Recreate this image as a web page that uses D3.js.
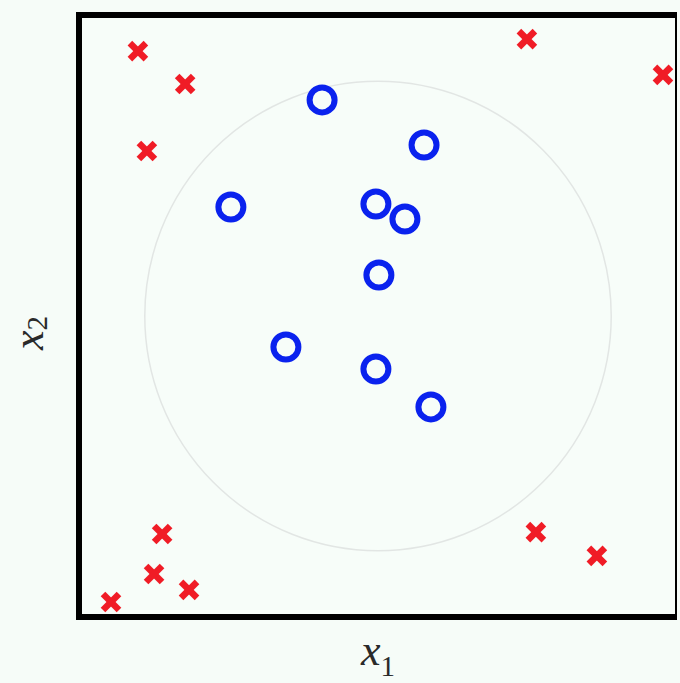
<!DOCTYPE html>
<html>
<head>
<meta charset="utf-8">
<script src="https://cdn.jsdelivr.net/npm/d3@7"></script>
<style>
  html, body { margin: 0; padding: 0; background: #f6fcf8; }
</style>
</head>
<body>
<div id="chart"></div>
<script>
// positive class (blue circles)
const posX = [-0.187, 0.154, -0.492, -0.007, 0.090, 0.003, -0.308, -0.007, 0.177];
const posY = [0.718, 0.568, 0.362, 0.372, 0.322, 0.136, -0.103, -0.176, -0.302];
// negative class (red crosses)
const negX = [-0.803, -0.645, -0.773, 0.498, 0.953, -0.722, -0.749, -0.632, -0.893, 0.528, 0.732];
const negY = [0.880, 0.771, 0.548, 0.920, 0.801, -0.724, -0.857, -0.910, -0.950, -0.718, -0.797];
// decision boundary radius
const boundaryR = 0.78;

const W = 680, H = 683;
const margin = { top: 15, right: 3, bottom: 66, left: 79 };

const svg = d3.select("#chart").append("svg")
    .attr("width", W)
    .attr("height", H);

const x = d3.scaleLinear().domain([-1, 1]).range([margin.left, W - margin.right]);
const y = d3.scaleLinear().domain([-1, 1]).range([H - margin.bottom, margin.top]);

// plot background
svg.append("rect")
    .attr("x", x(-1)).attr("y", y(1))
    .attr("width", x(1) - x(-1)).attr("height", y(-1) - y(1))
    .attr("fill", "#f7fdf9");

// circular boundary
svg.append("ellipse")
    .attr("cx", x(0)).attr("cy", y(0))
    .attr("rx", x(boundaryR) - x(0))
    .attr("ry", y(0) - y(boundaryR))
    .attr("fill", "none")
    .attr("stroke", "#e2e6e4")
    .attr("stroke-width", 1.5);

// frame: thick left/top/bottom, thin right
svg.append("line").attr("x1", x(1) - 1).attr("x2", x(1) - 1).attr("y1", y(1)).attr("y2", y(-1))
    .attr("stroke", "#000").attr("stroke-width", 2);
svg.append("path")
    .attr("d", `M${x(1)},${y(1)} H${x(-1)} V${y(-1)} H${x(1)}`)
    .attr("fill", "none")
    .attr("stroke", "#000")
    .attr("stroke-width", 6)
    .attr("stroke-linejoin", "miter");

// crosses
const neg = negX.map((v, i) => ({ x: v, y: negY[i] }));
const a = 8;
const g = svg.append("g").attr("stroke", "#f01c26").attr("stroke-width", 6.5);
g.selectAll(".xa").data(neg).enter().append("line")
    .attr("x1", d => x(d.x) - a).attr("y1", d => y(d.y) - a)
    .attr("x2", d => x(d.x) + a).attr("y2", d => y(d.y) + a);
g.selectAll(".xb").data(neg).enter().append("line")
    .attr("x1", d => x(d.x) - a).attr("y1", d => y(d.y) + a)
    .attr("x2", d => x(d.x) + a).attr("y2", d => y(d.y) - a);

// circles
const pos = posX.map((v, i) => ({ x: v, y: posY[i] }));
svg.selectAll(".dot").data(pos).enter().append("circle")
    .attr("cx", d => x(d.x))
    .attr("cy", d => y(d.y))
    .attr("r", 12.5)
    .attr("fill", "none")
    .attr("stroke", "#0a22ee")
    .attr("stroke-width", 6);

// axis labels
const lab = svg.append("text")
    .attr("x", 378)
    .attr("y", 665)
    .attr("text-anchor", "middle")
    .style("font-family", "'Liberation Serif', 'DejaVu Serif', serif")
    .style("font-size", "44px")
    .attr("fill", "#2a2a2a");
lab.append("tspan").style("font-style", "italic").text("x");
lab.append("tspan").attr("dy", 11).style("font-size", "29px").text("1");

const lab2 = svg.append("text")
    .attr("transform", `translate(43, 333) rotate(-90)`)
    .attr("text-anchor", "middle")
    .style("font-family", "'Liberation Serif', 'DejaVu Serif', serif")
    .style("font-size", "44px")
    .attr("fill", "#2a2a2a");
lab2.append("tspan").style("font-style", "italic").text("x");
lab2.append("tspan").attr("dy", 4).style("font-size", "29px").text("2");
</script>
</body>
</html>
